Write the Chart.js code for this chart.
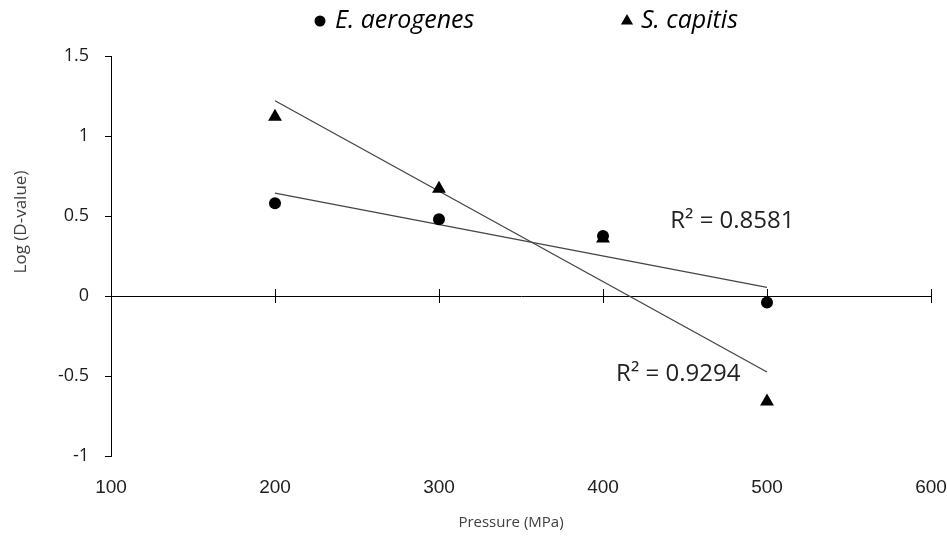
<!DOCTYPE html>
<html><head><meta charset="utf-8">
<script src="https://cdn.jsdelivr.net/npm/chart.js@4/dist/chart.umd.min.js"></script>
<style>html,body{margin:0;padding:0;background:#fff}#wrap{width:947px;height:543px;position:relative}</style>
</head><body><div id="wrap"><canvas id="c"></canvas></div>
<script>
// ---- data ----
const pressure = [200, 300, 400, 500];
const eAerogenes = [0.58, 0.48, 0.375, -0.04];
const sCapitis = [1.12, 0.67, 0.36, -0.66];
const seriesNames = ['E. aerogenes', 'S. capitis'];
const r2Labels = ['R\u00B2 = 0.8581', 'R\u00B2 = 0.9294'];
const xTicks = [100, 200, 300, 400, 500, 600];
const yTicks = [-1, -0.5, 0, 0.5, 1, 1.5];
const xTitle = 'Pressure (MPa)';
const yTitle = 'Log (D-value)';

// least-squares trend line evaluated at the first and last x
function trend(xs, ys) {
  const n = xs.length;
  const mx = xs.reduce((a, b) => a + b, 0) / n;
  const my = ys.reduce((a, b) => a + b, 0) / n;
  let sxy = 0, sxx = 0;
  for (let i = 0; i < n; i++) { sxy += (xs[i] - mx) * (ys[i] - my); sxx += (xs[i] - mx) ** 2; }
  const b = sxy / sxx, a = my - b * mx;
  return [xs[0], xs[n - 1]].map(x => ({ x, y: a + b * x }));
}
const pts = (xs, ys) => xs.map((x, i) => ({ x, y: ys[i] }));

const FONT = "'Open Sans', 'Noto Sans', sans-serif";
const NARROW = "'Liberation Sans Narrow', 'Liberation Sans', sans-serif";

const customLegend = {
  id: 'customLegend',
  afterDraw(chart) {
    const ctx = chart.ctx;
    ctx.save();
    ctx.fillStyle = '#000';
    ctx.font = 'italic 25px ' + FONT;
    ctx.textBaseline = 'middle';
    ctx.textAlign = 'left';
    const items = [
      { style: 'circle', mx: 320, tx: 335, label: chart.data.datasets[0].label },
      { style: 'triangle', mx: 627, tx: 641, label: chart.data.datasets[1].label }
    ];
    const y = 21;
    items.forEach(it => {
      ctx.beginPath();
      if (it.style === 'circle') {
        ctx.arc(it.mx, y, 5.5, 0, Math.PI * 2);
      } else {
        const r = 7;
        ctx.moveTo(it.mx, y - r);
        ctx.lineTo(it.mx + r * 0.866, y + r / 2);
        ctx.lineTo(it.mx - r * 0.866, y + r / 2);
        ctx.closePath();
      }
      ctx.fill();
      ctx.fillText(it.label, it.tx, y);
    });
    ctx.restore();
  }
};

const axisDecor = {
  id: 'axisDecor',
  beforeDatasetsDraw(chart) {
    const ctx = chart.ctx, xs = chart.scales.x, ys = chart.scales.y;
    const y0 = ys.getPixelForValue(0);
    ctx.save();
    ctx.strokeStyle = '#000';
    ctx.lineWidth = 1;
    xTicks.slice(1).forEach(v => {
      const px = Math.round(xs.getPixelForValue(v)) + 0.5;
      ctx.beginPath();
      ctx.moveTo(px, y0 - 7);
      ctx.lineTo(px, y0 + 7);
      ctx.stroke();
    });
    ctx.restore();
  },
  afterDraw(chart) {
    const ctx = chart.ctx, xs = chart.scales.x, ys = chart.scales.y;
    const opts = chart.options.plugins.axisDecor;
    ctx.save();
    ctx.fillStyle = '#222';
    ctx.font = '24px ' + FONT;
    ctx.textBaseline = 'middle';
    ctx.textAlign = 'left';
    r2Labels.forEach((t, i) => {
      ctx.fillText(t, xs.getPixelForValue(opts.anchors[i][0]), ys.getPixelForValue(opts.anchors[i][1]));
    });
    // axis titles
    ctx.fillStyle = '#404040';
    ctx.textAlign = 'center';
    ctx.font = '15px ' + FONT;
    ctx.fillText(xTitle, opts.xTitleAt[0], opts.xTitleAt[1]);
    ctx.font = '17px ' + FONT;
    ctx.translate(opts.yTitleAt[0], opts.yTitleAt[1]);
    ctx.rotate(-Math.PI / 2);
    ctx.fillText(yTitle, 0, 0);
    ctx.restore();
  }
};

new Chart(document.getElementById('c'), {
  type: 'scatter',
  data: {
    datasets: [
      { label: seriesNames[0], data: pts(pressure, eAerogenes), pointStyle: 'circle', pointRadius: 6, pointHoverRadius: 6,
        backgroundColor: '#000', borderColor: '#000', borderWidth: 0, order: 0 },
      { label: seriesNames[1], data: pts(pressure, sCapitis), pointStyle: 'triangle', pointRadius: 8, pointHoverRadius: 8,
        backgroundColor: '#000', borderColor: '#000', borderWidth: 0, order: 1 },
      { label: 'trend1', data: trend(pressure, eAerogenes), showLine: true, pointRadius: 0, borderColor: '#444',
        borderWidth: 1.3, order: 2 },
      { label: 'trend2', data: trend(pressure, sCapitis), showLine: true, pointRadius: 0, borderColor: '#444',
        borderWidth: 1.3, order: 3 }
    ]
  },
  options: {
    responsive: true,
    maintainAspectRatio: false,
    animation: false,
    layout: { padding: { left: 0, right: 16, top: 56, bottom: 0 } },
    plugins: {
      legend: { display: false },
      tooltip: { enabled: false },
      axisDecor: { anchors: [[441, 0.47], [408, -0.49]], xTitleAt: [511, 523], yTitleAt: [21, 222] }
    },
    scales: {
      x: {
        type: 'linear', position: 'bottom', min: 100, max: 600,
        afterBuildTicks: s => { s.ticks = xTicks.map(v => ({ value: v })); },
        afterFit: s => { s.height = 87; s.paddingLeft = 0; s.paddingRight = 0; },
        grid: { display: false, drawTicks: false },
        border: { display: false },
        ticks: { color: '#222', font: { family: NARROW, size: 19 }, padding: 20, maxRotation: 0 },
        title: { display: false }
      },
      y: {
        type: 'linear', min: -1, max: 1.5,
        afterBuildTicks: s => { s.ticks = yTicks.map(v => ({ value: v })); },
        afterFit: s => { s.width = 111; },
        grid: {
          display: true, drawOnChartArea: true, drawTicks: true, tickLength: 6, lineWidth: 1,
          color: c => (c.tick && c.tick.value === 0 ? '#000' : 'rgba(0,0,0,0)'),
          tickColor: '#000'
        },
        border: { display: true, color: '#000', width: 1 },
        ticks: { color: '#1a1a1a', font: { family: FONT, size: 18 }, padding: 16, callback: v => String(v) },
        title: { display: false }
      }
    }
  },
  plugins: [customLegend, axisDecor]
});
</script>
</body></html>
